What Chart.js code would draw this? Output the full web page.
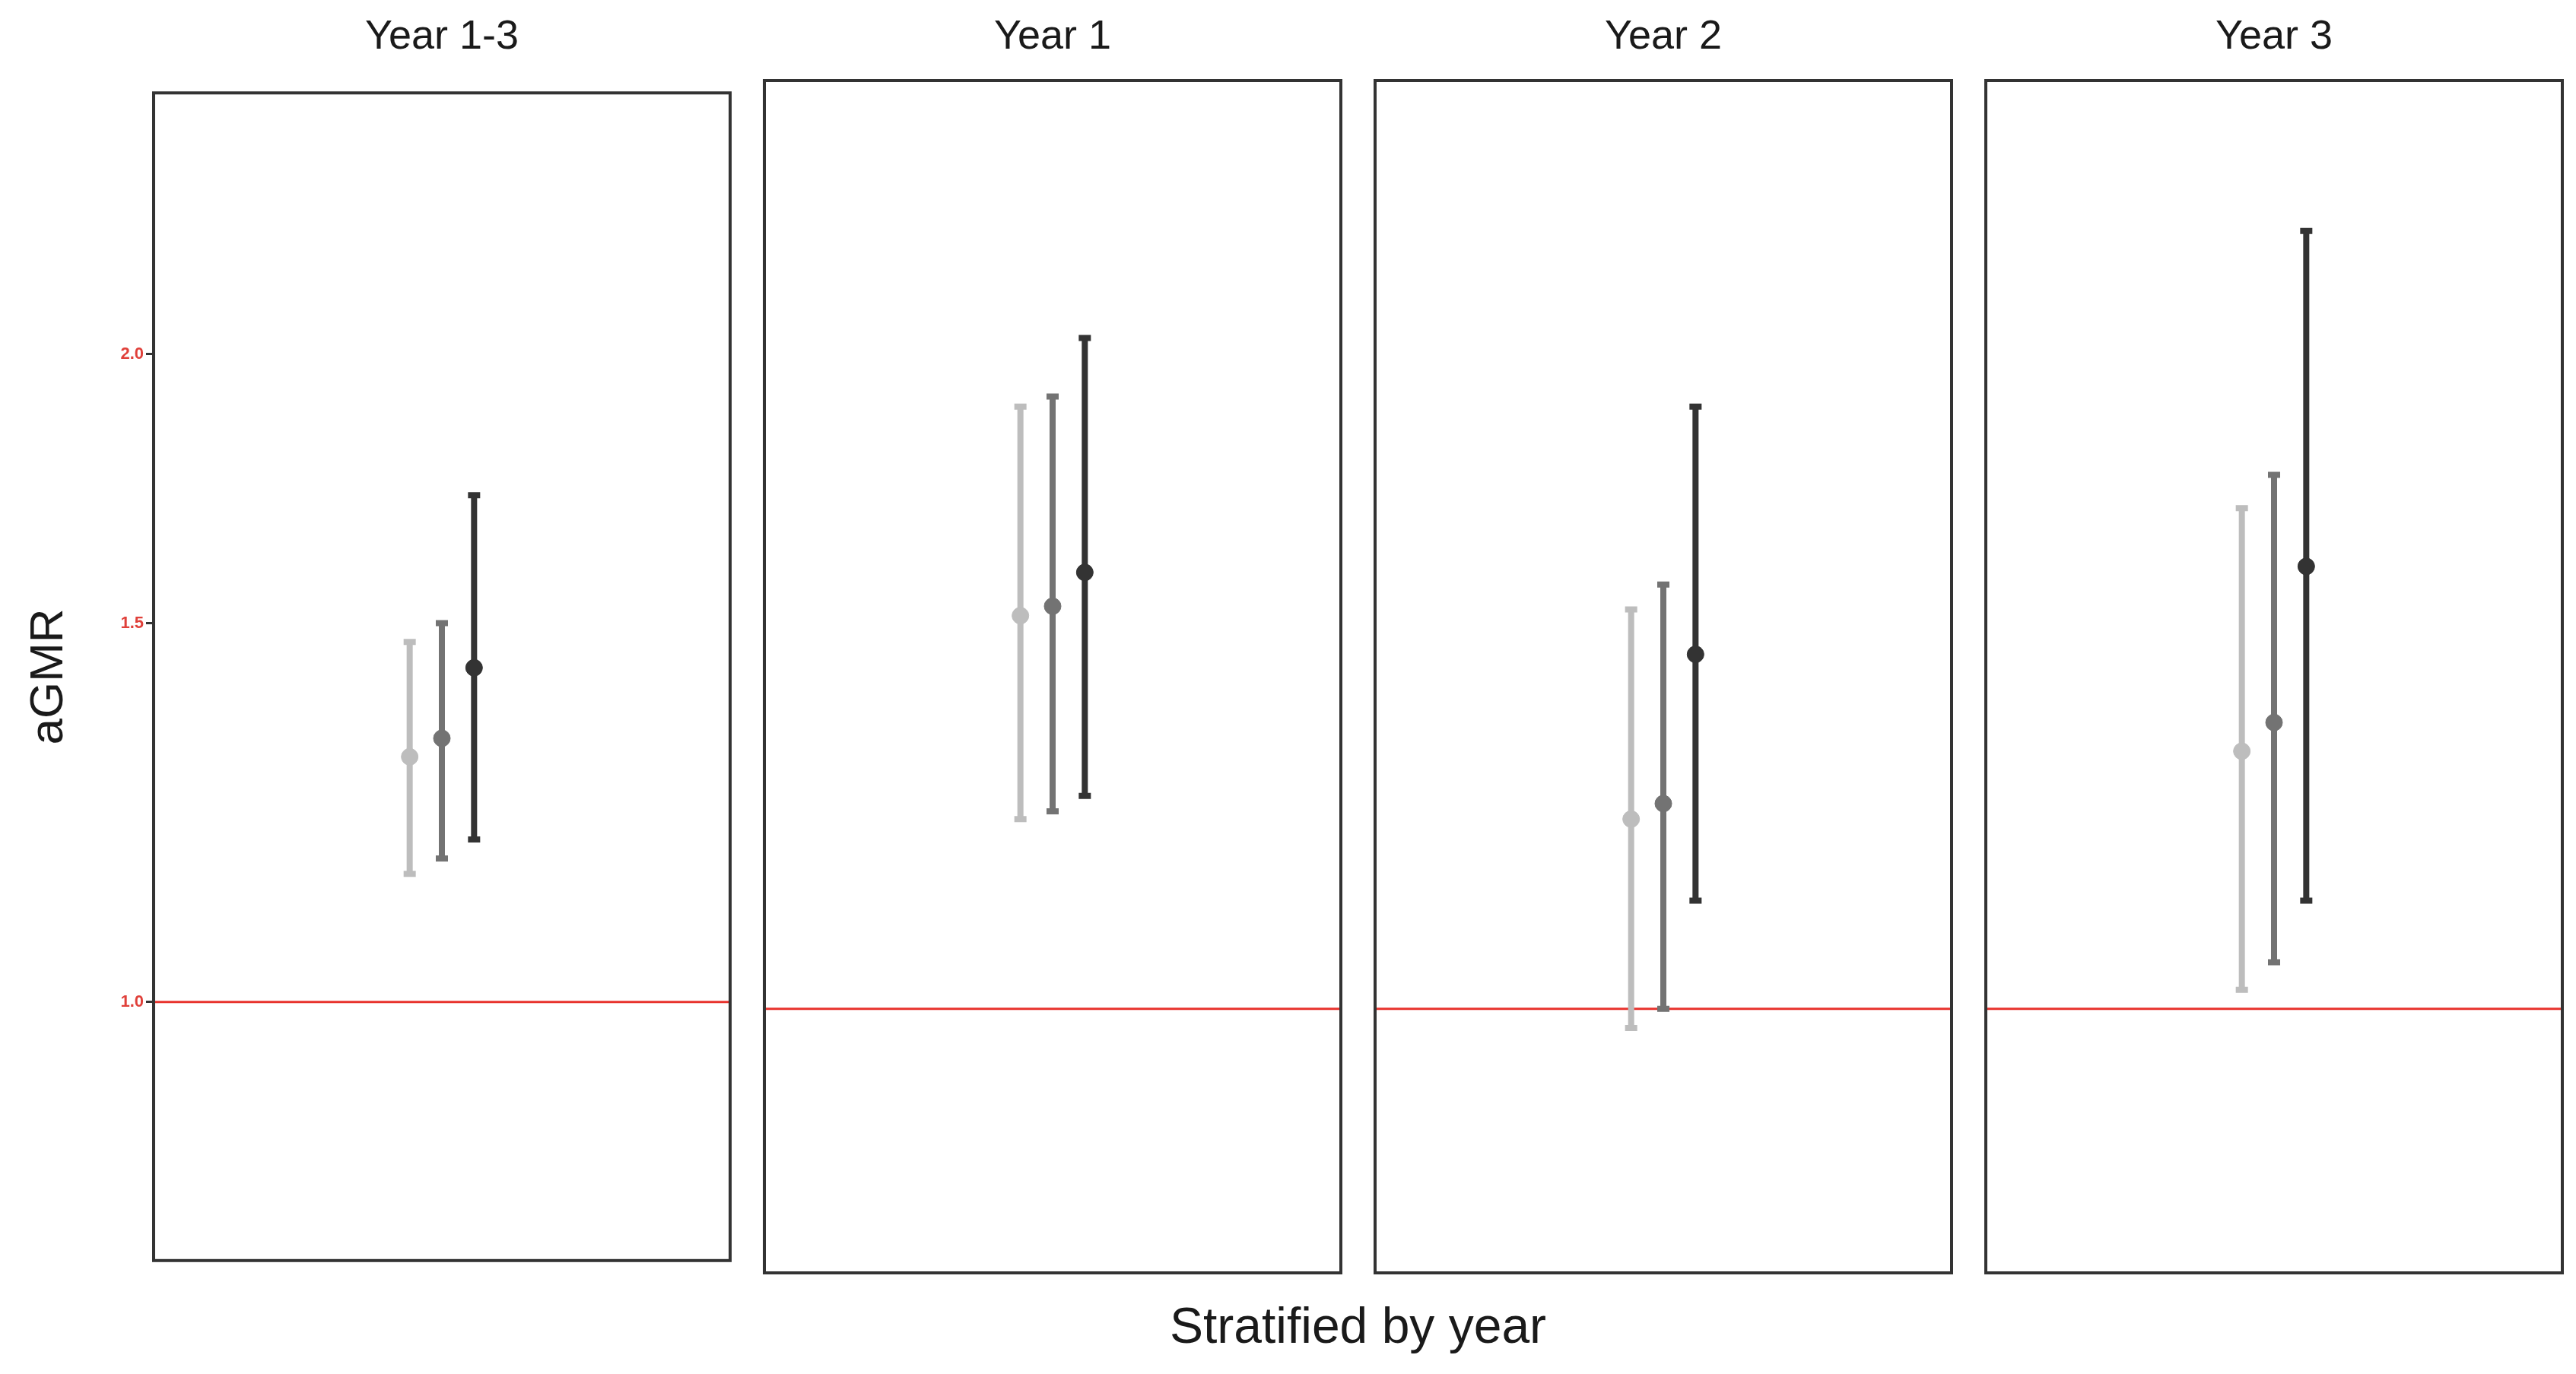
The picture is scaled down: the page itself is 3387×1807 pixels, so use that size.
<!DOCTYPE html>
<html>
<head>
<meta charset="utf-8">
<script src="https://cdn.jsdelivr.net/npm/chart.js@4/dist/chart.umd.min.js"></script>
<style>
  body { margin: 0; background: #fff; font-family: "Liberation Sans", Arial, sans-serif; }
  #wrap { position: relative; width: 3387px; height: 1807px; }
  canvas { position: absolute; top: 104px; }
  .ttl { position: absolute; top: 14px; width: 762px; text-align: center; font-size: 54px; color: #1a1a1a; }
  #xlab { position: absolute; top: 1705px; left: 200px; width: 3171px; text-align: center; font-size: 66px; color: #1a1a1a; }
  #ylab { position: absolute; left: 60px; top: 890px; font-size: 62px; color: #1a1a1a; transform: translate(-50%, -50%) rotate(-90deg); }
</style>
</head>
<body>
<div id="wrap">
  <div id="ylab">aGMR</div>
  <div id="xlab">Stratified by year</div>
</div>
<script>
// panels and the three estimates in each (light, mid, dark)
const panels = ["Year 1-3", "Year 1", "Year 2", "Year 3"];
const estimate = [
  [1.30, 1.326, 1.43],
  [1.51, 1.525, 1.58],
  [1.22, 1.24, 1.45],
  [1.31, 1.35, 1.59]
];
const lower = [
  [1.147, 1.166, 1.19],
  [1.22, 1.23, 1.25],
  [0.98, 1.00, 1.12],
  [1.02, 1.05, 1.12]
];
const upper = [
  [1.47, 1.50, 1.72],
  [1.88, 1.90, 2.02],
  [1.52, 1.56, 1.88],
  [1.69, 1.75, 2.26]
];
const offsets = [-1, 0, 1];
const yTicks = [1.0, 1.5, 2.0];
const colors = ["#bdbdbd", "#737373", "#333333"];

const lefts = [200, 1003, 1806, 2609];
const W = 762, H = 1572, AXIS = 200;

// error bars, reference line and panel border
const drawExtras = {
  id: "extras",
  beforeDatasetsDraw(chart) {
    const ctx = chart.ctx, a = chart.chartArea;
    const x = chart.scales.x, y = chart.scales.y;
    ctx.save();
    ctx.strokeStyle = "#e8322c";
    ctx.lineWidth = 3;
    ctx.beginPath();
    ctx.moveTo(a.left, y.getPixelForValue(1));
    ctx.lineTo(a.right, y.getPixelForValue(1));
    ctx.stroke();
    const p = chart.options.plugins.extras.panel;
    for (let i = 0; i < 3; i++) {
      const px = x.getPixelForValue(offsets[i]);
      const lo = y.getPixelForValue(lower[p][i]);
      const hi = y.getPixelForValue(upper[p][i]);
      ctx.strokeStyle = colors[i];
      ctx.lineWidth = 8;
      ctx.beginPath();
      ctx.moveTo(px, lo); ctx.lineTo(px, hi);
      ctx.moveTo(px - 8, lo); ctx.lineTo(px + 8, lo);
      ctx.moveTo(px - 8, hi); ctx.lineTo(px + 8, hi);
      ctx.stroke();
    }
    ctx.restore();
  },
  afterDraw(chart) {
    const ctx = chart.ctx, a = chart.chartArea;
    ctx.save();
    ctx.strokeStyle = "#333";
    ctx.lineWidth = 4;
    ctx.strokeRect(a.left + 2, a.top + 2, a.right - a.left - 4, a.bottom - a.top - 4);
    ctx.restore();
  }
};

const wrap = document.getElementById("wrap");
panels.forEach((name, p) => {
  const first = p === 0;
  const t = document.createElement("div");
  t.className = "ttl";
  t.style.left = lefts[p] + "px";
  t.textContent = name;
  wrap.appendChild(t);

  const c = document.createElement("canvas");
  const w = first ? W + AXIS : W;
  c.width = w; c.height = H;
  c.style.left = (first ? 0 : lefts[p]) + "px";
  wrap.appendChild(c);

  new Chart(c, {
    type: "scatter",
    data: {
      datasets: [{
        data: offsets.map((o, i) => ({ x: o, y: estimate[p][i] })),
        pointBackgroundColor: colors,
        pointBorderColor: colors,
        pointRadius: 11
      }]
    },
    options: {
      responsive: false,
      animation: false,
      devicePixelRatio: 1,
      layout: { padding: 0, autoPadding: false },
      plugins: { legend: { display: false }, tooltip: { enabled: false }, extras: { panel: p } },
      scales: {
        x: { type: "linear", min: -9, max: 9, display: false },
        y: {
          type: "logarithmic", min: 0.757, max: 2.65,
          display: first,
          afterFit: s => { s.width = first ? AXIS : 0; },
          afterBuildTicks: s => { s.ticks = yTicks.map(v => ({ value: v })); },
          grid: { drawOnChartArea: false, drawTicks: true, tickLength: 8, color: "#333", lineWidth: 3 },
          border: { display: false },
          ticks: {
            color: "#e0403a", font: { size: 22, weight: "bold" },
            callback: v => Number(v).toFixed(1)
          }
        }
      }
    },
    plugins: [drawExtras]
  });
});
</script>
</body>
</html>
